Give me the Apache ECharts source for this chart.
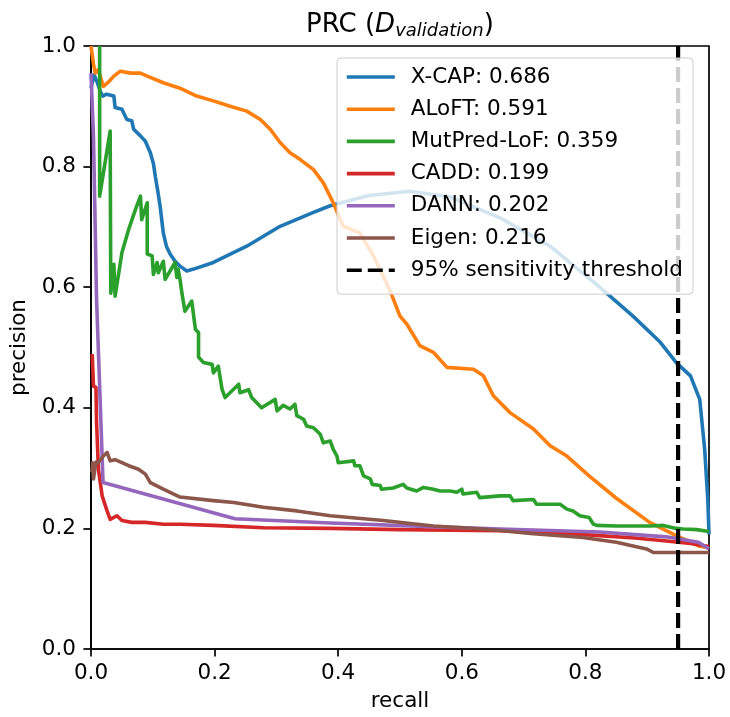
<!DOCTYPE html>
<html><head><meta charset="utf-8">
<script src="https://cdn.jsdelivr.net/npm/echarts/dist/echarts.min.js"></script>
<style>html,body{margin:0;padding:0;background:#fff}#c{width:730px;height:717px}</style>
</head><body><div id="c"></div>
<script>
// ---------- data (recall, precision) ----------
const seriesNames = ['X-CAP: 0.686','ALoFT: 0.591','MutPred-LoF: 0.359','CADD: 0.199','DANN: 0.202','Eigen: 0.216','95% sensitivity threshold'];
const xTickLabels = ['0.0','0.2','0.4','0.6','0.8','1.0'];
const yTickLabels = ['0.0','0.2','0.4','0.6','0.8','1.0'];

const xcap = [[0.0,0.93],[0.003,0.944],[0.005,0.952],[0.01,0.94],[0.015,0.925],[0.019,0.917],[0.025,0.92],[0.037,0.917],[0.039,0.898],[0.05,0.895],[0.058,0.878],[0.066,0.876],[0.069,0.862],[0.08,0.851],[0.088,0.842],[0.096,0.823],[0.101,0.805],[0.104,0.784],[0.108,0.76],[0.112,0.733],[0.117,0.69],[0.122,0.668],[0.128,0.655],[0.136,0.643],[0.144,0.635],[0.155,0.627],[0.166,0.63],[0.198,0.641],[0.252,0.668],[0.306,0.701],[0.36,0.724],[0.387,0.735],[0.45,0.752],[0.516,0.759],[0.58,0.75],[0.662,0.715],[0.743,0.668],[0.823,0.6],[0.877,0.552],[0.92,0.51],[0.947,0.475],[0.97,0.453],[0.985,0.414],[0.993,0.331],[0.998,0.249],[1.0,0.19]];

const aloft = [[0.0,1.0],[0.003,1.0],[0.004,0.97],[0.007,0.955],[0.012,0.961],[0.015,0.95],[0.02,0.933],[0.028,0.94],[0.037,0.95],[0.047,0.958],[0.064,0.955],[0.08,0.955],[0.091,0.95],[0.117,0.939],[0.144,0.93],[0.171,0.917],[0.198,0.909],[0.225,0.9],[0.252,0.892],[0.274,0.878],[0.29,0.862],[0.306,0.84],[0.322,0.823],[0.338,0.812],[0.36,0.795],[0.376,0.773],[0.392,0.74],[0.408,0.701],[0.435,0.69],[0.457,0.652],[0.484,0.594],[0.5,0.552],[0.511,0.539],[0.532,0.503],[0.554,0.492],[0.576,0.467],[0.619,0.464],[0.635,0.453],[0.651,0.42],[0.678,0.392],[0.716,0.365],[0.743,0.337],[0.77,0.32],[0.806,0.287],[0.85,0.25],[0.904,0.21],[0.947,0.188],[0.983,0.171],[1.0,0.168]];

const mutpred = [[0.014,1.0],[0.014,0.751],[0.031,0.859],[0.032,0.59],[0.037,0.638],[0.039,0.585],[0.05,0.657],[0.061,0.696],[0.072,0.729],[0.08,0.751],[0.082,0.712],[0.091,0.74],[0.091,0.655],[0.099,0.652],[0.101,0.621],[0.107,0.641],[0.109,0.624],[0.117,0.643],[0.12,0.613],[0.136,0.641],[0.139,0.616],[0.141,0.63],[0.144,0.613],[0.147,0.591],[0.152,0.56],[0.163,0.577],[0.169,0.53],[0.174,0.525],[0.174,0.484],[0.182,0.475],[0.196,0.472],[0.198,0.458],[0.206,0.469],[0.212,0.431],[0.217,0.417],[0.239,0.439],[0.241,0.425],[0.255,0.43],[0.26,0.417],[0.276,0.4],[0.298,0.414],[0.301,0.395],[0.311,0.404],[0.322,0.398],[0.33,0.406],[0.333,0.387],[0.344,0.381],[0.349,0.37],[0.36,0.367],[0.371,0.356],[0.376,0.342],[0.387,0.345],[0.392,0.331],[0.398,0.32],[0.4,0.309],[0.425,0.312],[0.427,0.304],[0.435,0.304],[0.441,0.287],[0.452,0.282],[0.455,0.273],[0.468,0.271],[0.47,0.265],[0.489,0.267],[0.505,0.273],[0.511,0.267],[0.527,0.262],[0.538,0.268],[0.554,0.265],[0.565,0.262],[0.581,0.262],[0.592,0.26],[0.6,0.265],[0.602,0.257],[0.624,0.26],[0.629,0.251],[0.662,0.254],[0.678,0.254],[0.683,0.246],[0.716,0.248],[0.721,0.24],[0.759,0.24],[0.77,0.232],[0.78,0.229],[0.791,0.221],[0.806,0.218],[0.813,0.207],[0.818,0.205],[0.85,0.204],[0.904,0.204],[0.926,0.205],[0.947,0.2],[0.958,0.199],[0.98,0.198],[1.0,0.195]];

const cadd = [[0.002,0.489],[0.004,0.436],[0.008,0.434],[0.009,0.376],[0.012,0.298],[0.018,0.254],[0.026,0.229],[0.031,0.215],[0.042,0.221],[0.05,0.213],[0.066,0.21],[0.088,0.21],[0.117,0.207],[0.144,0.207],[0.198,0.205],[0.279,0.201],[0.387,0.2],[0.5,0.198],[0.662,0.196],[0.75,0.193],[0.823,0.188],[0.88,0.184],[0.931,0.179],[0.97,0.175],[1.0,0.17]];

const dann = [[0.0,0.955],[0.004,0.85],[0.009,0.58],[0.0195,0.276],[0.233,0.216],[0.387,0.209],[0.55,0.203],[0.662,0.199],[0.823,0.194],[0.931,0.186],[0.983,0.177],[1.0,0.166]];

const eigen = [[0.0016,0.293],[0.0026,0.309],[0.004,0.282],[0.008,0.31],[0.012,0.309],[0.016,0.315],[0.02,0.32],[0.026,0.326],[0.031,0.312],[0.039,0.314],[0.05,0.309],[0.061,0.304],[0.077,0.298],[0.088,0.29],[0.096,0.276],[0.117,0.265],[0.144,0.252],[0.198,0.246],[0.231,0.243],[0.279,0.235],[0.333,0.229],[0.387,0.221],[0.473,0.213],[0.554,0.204],[0.635,0.199],[0.716,0.191],[0.796,0.185],[0.85,0.177],[0.899,0.166],[0.91,0.16],[1.0,0.16]];

const threshold = [[0.95,0.0],[0.95,1.0]];

// ---------- chart ----------
const FONT = 'DejaVu Sans';
const colors = ['#1f77b4','#ff7f0e','#2ca02c','#d62728','#9467bd','#8c564b','#000000'];
const datasets = [xcap, aloft, mutpred, cadd, dann, eigen, threshold];

const series = datasets.map((d, i) => ({
  name: seriesNames[i],
  type: 'line',
  data: d,
  symbol: 'none',
  showSymbol: false,
  clip: true,
  z: 2,
  color: colors[i],
  lineStyle: i === 6
    ? { color: '#000', width: 4.2, type: [15, 6], cap: 'butt' }
    : { color: colors[i], width: 3.6, join: 'round', cap: 'butt' },
  emphasis: { disabled: true }
}));

const chart = echarts.init(document.getElementById('c'), null, { renderer: 'canvas' });
chart.setOption({
  animation: false,
  backgroundColor: '#fff',
  title: {
    text: '{n|PRC (}{d|D}{s|validation}{n|)}',
    left: 400, top: 10, padding: 0, textAlign: 'center',
    textStyle: {
      fontWeight: 'normal',
      rich: {
        n: { fontFamily: FONT, fontSize: 26, fontWeight: 'normal', color: '#000', lineHeight: 30 },
        d: { fontFamily: FONT, fontSize: 26, fontWeight: 'normal', fontStyle: 'italic', color: '#000', lineHeight: 30 },
        s: { fontFamily: FONT, fontSize: 18, fontWeight: 'normal', fontStyle: 'italic', color: '#000', lineHeight: 11, verticalAlign: 'bottom' }
      }
    }
  },
  grid: { left: 91, right: 21, top: 46, bottom: 67, show: true, borderColor: '#000', borderWidth: 1.7, backgroundColor: 'transparent' },
  legend: {
    orient: 'vertical',
    left: 337, top: 58,
    padding: [8, 10, 13, 8],
    itemWidth: 48, itemHeight: 14, itemGap: 10.2,
    backgroundColor: 'rgba(255,255,255,0.8)',
    borderColor: '#cccccc', borderWidth: 1, borderRadius: 4,
    data: seriesNames,
    selectedMode: false,
    z: 10,
    itemStyle: { opacity: 0, borderWidth: 0 },
    lineStyle: { width: 3.6 },
    textStyle: { fontFamily: FONT, fontSize: 21.5, color: '#000', lineHeight: 22, padding: [0, 0, 0, 11] }
  },
  xAxis: {
    type: 'value', min: 0, max: 1, interval: 0.2,
    name: 'recall', nameLocation: 'middle', nameGap: 41,
    nameTextStyle: { fontFamily: FONT, fontSize: 21.5, color: '#000' },
    axisLine: { show: true, onZero: false, lineStyle: { color: '#000', width: 1.7 } },
    axisTick: { show: true, inside: false, length: 7.6, lineStyle: { color: '#000', width: 1.7 } },
    axisLabel: { fontFamily: FONT, fontSize: 21.5, color: '#000', margin: 13,
      formatter: v => xTickLabels[Math.round(v / 0.2)] },
    splitLine: { show: false }
  },
  yAxis: {
    type: 'value', min: 0, max: 1, interval: 0.2,
    name: 'precision', nameLocation: 'middle', nameGap: 53, nameRotate: 90,
    nameTextStyle: { fontFamily: FONT, fontSize: 21.5, color: '#000' },
    axisLine: { show: true, onZero: false, lineStyle: { color: '#000', width: 1.7 } },
    axisTick: { show: true, inside: false, length: 7.6, lineStyle: { color: '#000', width: 1.7 } },
    axisLabel: { fontFamily: FONT, fontSize: 21.5, color: '#000', margin: 15,
      formatter: v => yTickLabels[Math.round(v / 0.2)] },
    splitLine: { show: false }
  },
  series: series
});
</script></body></html>
